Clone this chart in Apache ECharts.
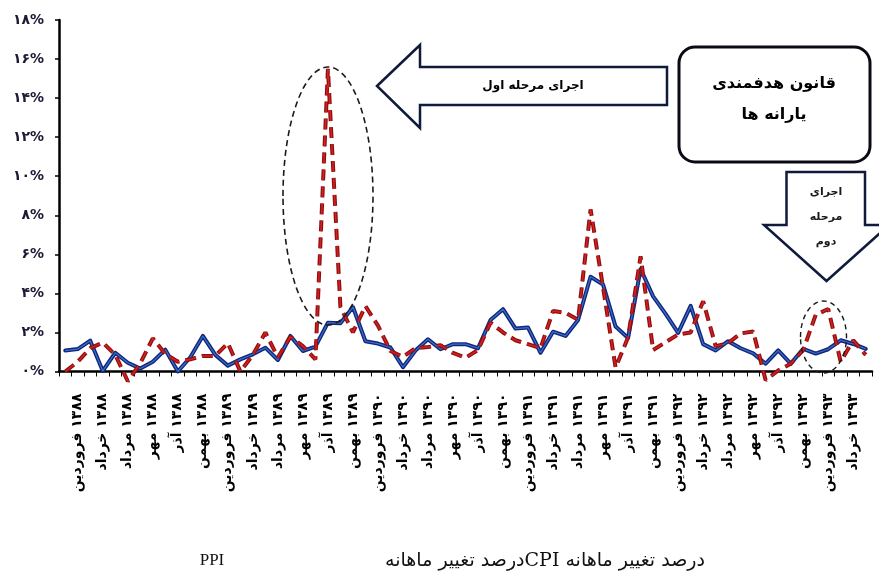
<!DOCTYPE html>
<html><head><meta charset="utf-8">
<script src="https://cdn.jsdelivr.net/npm/echarts@6/dist/echarts.min.js"></script>
<style>html,body{margin:0;padding:0;background:#fff}#c{width:879px;height:577px}</style>
</head><body><div id="c"></div>
<script>
// Persian years / months used for the category axis (series starts at Esfand 1387)
const yearsFa = ['۱۳۸۷','۱۳۸۸','۱۳۸۹','۱۳۹۰','۱۳۹۱','۱۳۹۲','۱۳۹۳'];
const monthsFa = ['فروردین','اردیبهشت','خرداد','تیر','مرداد','شهریور','مهر','آبان','آذر','دی','بهمن','اسفند'];
const monthCount = 65;
const firstMonthOffset = 11; // اسفند ۱۳۸۷
// y tick labels
const yTickLabels = ['۰%','۲%','۴%','۶%','۸%','۱۰%','۱۲%','۱۴%','۱۶%','۱۸%'];
// CPI monthly change (%)
const cpi = [1.07,1.15,1.58,0.03,0.96,0.45,0.15,0.5,1.12,0.0,
  0.73,1.82,0.85,0.3,0.62,0.88,1.22,0.59,1.82,1.05,
  1.27,2.5,2.47,3.3,1.55,1.43,1.23,0.22,1.07,1.65,
  1.14,1.4,1.4,1.19,2.64,3.19,2.2,2.25,0.96,2.04,
  1.82,2.64,4.85,4.45,2.3,1.72,5.25,3.85,2.95,1.98,
  3.36,1.4,1.08,1.55,1.19,0.93,0.4,1.08,0.4,1.16,
  0.92,1.14,1.6,1.41,1.16];
// PPI monthly change (%)
const ppi = [0.0,0.5,1.2,1.48,0.85,-0.5,0.42,1.7,0.9,0.5,
  0.62,0.8,0.8,1.45,0.0,0.85,2.0,0.72,1.78,1.3,
  0.62,15.5,3.3,2.0,3.35,2.35,1.05,0.75,1.2,1.25,
  1.35,0.95,0.7,1.1,2.5,2.0,1.6,1.4,1.2,3.1,
  3.0,2.65,8.3,4.3,0.2,1.75,5.9,1.1,1.5,1.9,
  2.0,3.6,1.3,1.45,1.95,2.05,-0.45,0.05,0.4,1.1,
  2.9,3.2,0.5,1.6,0.85];

const categories = [];
for (let i = 0; i < monthCount; i++) {
  const k = i + firstMonthOffset;
  categories.push(yearsFa[Math.floor(k / 12)] + ' ' + monthsFa[k % 12]);
}

const chart = echarts.init(document.getElementById('c'), null, {renderer: 'canvas'});
const persFont = 'DejaVu Sans';
const navy = '#0f1a3c';

const option = {
  backgroundColor: '#fff',
  animation: false,
  grid: {left: 59, right: 7, top: 20, bottom: 205.5, containLabel: false},
  xAxis: {
    type: 'category', data: categories, boundaryGap: true,
    axisLine: {lineStyle: {color: '#000', width: 2.5}},
    axisTick: {show: true, interval: 0, length: 5, lineStyle: {color: '#000', width: 1}},
    axisLabel: {
      interval: (idx) => idx % 2 === 1, rotate: 90, margin: 22, fontFamily: persFont, fontWeight: 'bold',
      fontSize: 14, color: '#000',
      formatter: v => '\u200F' + v
    },
    splitLine: {show: false}
  },
  yAxis: {
    type: 'value', min: 0, max: 18, interval: 2,
    axisLine: {show: true, lineStyle: {color: '#000', width: 2.5}},
    axisTick: {show: true, length: 4, lineStyle: {color: '#000', width: 1.5}},
    axisLabel: {
      margin: 15, fontFamily: persFont, fontWeight: 'bold', fontSize: 14, color: '#1a1a33',
      formatter: v => yTickLabels[Math.round(v / 2)]
    },
    splitLine: {show: false}
  },
  series: [
    {name: 'CPI', type: 'line', data: cpi, symbol: 'none', clip: false, z: 2,
     lineStyle: {color: '#15257d', width: 4, join: 'round', cap: 'round'}},
    {name: 'CPI_hl', type: 'line', data: cpi, symbol: 'none', clip: false, z: 3, silent: true,
     lineStyle: {color: '#3d8fe0', width: 1.2, opacity: 0.75}},
    {name: 'PPI', type: 'line', data: ppi, symbol: 'none', clip: false, z: 4,
     lineStyle: {color: '#8e0f10', width: 4, type: [11, 6], cap: 'butt'}},
    {name: 'PPI_hl', type: 'line', data: ppi, symbol: 'none', clip: false, z: 5, silent: true,
     lineStyle: {color: '#dd2222', width: 1.5, type: [11, 6], cap: 'butt', opacity: 0.9}}
  ],
  graphic: [
    {type: 'ellipse', shape: {cx: 328, cy: 196, rx: 45, ry: 129}, z: 10,
     style: {fill: 'none', stroke: '#1a1a1a', lineWidth: 1.6, lineDash: [6, 4]}},
    {type: 'ellipse', shape: {cx: 823.5, cy: 337, rx: 23, ry: 36}, z: 10,
     style: {fill: 'none', stroke: '#1a1a1a', lineWidth: 1.4, lineDash: [5, 4]}},
    {type: 'polygon', z: 10,
     shape: {points: [[377, 86], [420, 45], [420, 67], [667, 67], [667, 105], [420, 105], [420, 128]]},
     style: {fill: '#fff', stroke: navy, lineWidth: 2.5, lineJoin: 'miter'}},
    {type: 'text', z: 11, style: {x: 533, y: 86, text: 'اجرای مرحله اول', font: 'bold 12px "DejaVu Sans"',
     fill: '#000', align: 'center', verticalAlign: 'middle'}},
    {type: 'rect', z: 10, shape: {x: 679, y: 47, width: 191, height: 115, r: 16},
     style: {fill: '#fff', stroke: '#0a0a14', lineWidth: 3}},
    {type: 'text', z: 11, style: {x: 774, y: 84, text: 'قانون هدفمندی', font: 'bold 16px "DejaVu Sans"',
     fill: '#000', align: 'center', verticalAlign: 'middle'}},
    {type: 'text', z: 11, style: {x: 774, y: 115, text: 'یارانه ها', font: 'bold 16px "DejaVu Sans"',
     fill: '#000', align: 'center', verticalAlign: 'middle'}},
    {type: 'polygon', z: 10,
     shape: {points: [[786.5, 172], [865, 172], [865, 225], [889, 225], [826.5, 281], [764, 225], [786.5, 225]]},
     style: {fill: '#fff', stroke: navy, lineWidth: 2.5, lineJoin: 'miter'}},
    {type: 'text', z: 11, style: {x: 826, y: 192, text: 'اجرای', font: 'bold 11px "DejaVu Sans"',
     fill: '#1a1a1a', align: 'center', verticalAlign: 'middle'}},
    {type: 'text', z: 11, style: {x: 826, y: 217, text: 'مرحله', font: 'bold 11px "DejaVu Sans"',
     fill: '#1a1a1a', align: 'center', verticalAlign: 'middle'}},
    {type: 'text', z: 11, style: {x: 826, y: 242, text: 'دوم', font: 'bold 11px "DejaVu Sans"',
     fill: '#1a1a1a', align: 'center', verticalAlign: 'middle'}},
    {type: 'text', z: 11, style: {x: 212, y: 561, text: 'PPI', font: '17px "Liberation Serif"',
     fill: '#111', align: 'center', verticalAlign: 'middle'}},
    {type: 'text', z: 11, style: {x: 545, y: 561, text: 'درصد تغییر ماهانهCPI درصد تغییر ماهانه',
     font: '19px "DejaVu Serif", "Liberation Serif", "DejaVu Sans"',
     fill: '#111', align: 'center', verticalAlign: 'middle'}}
  ]
};
chart.setOption(option);
</script>
</body></html>
